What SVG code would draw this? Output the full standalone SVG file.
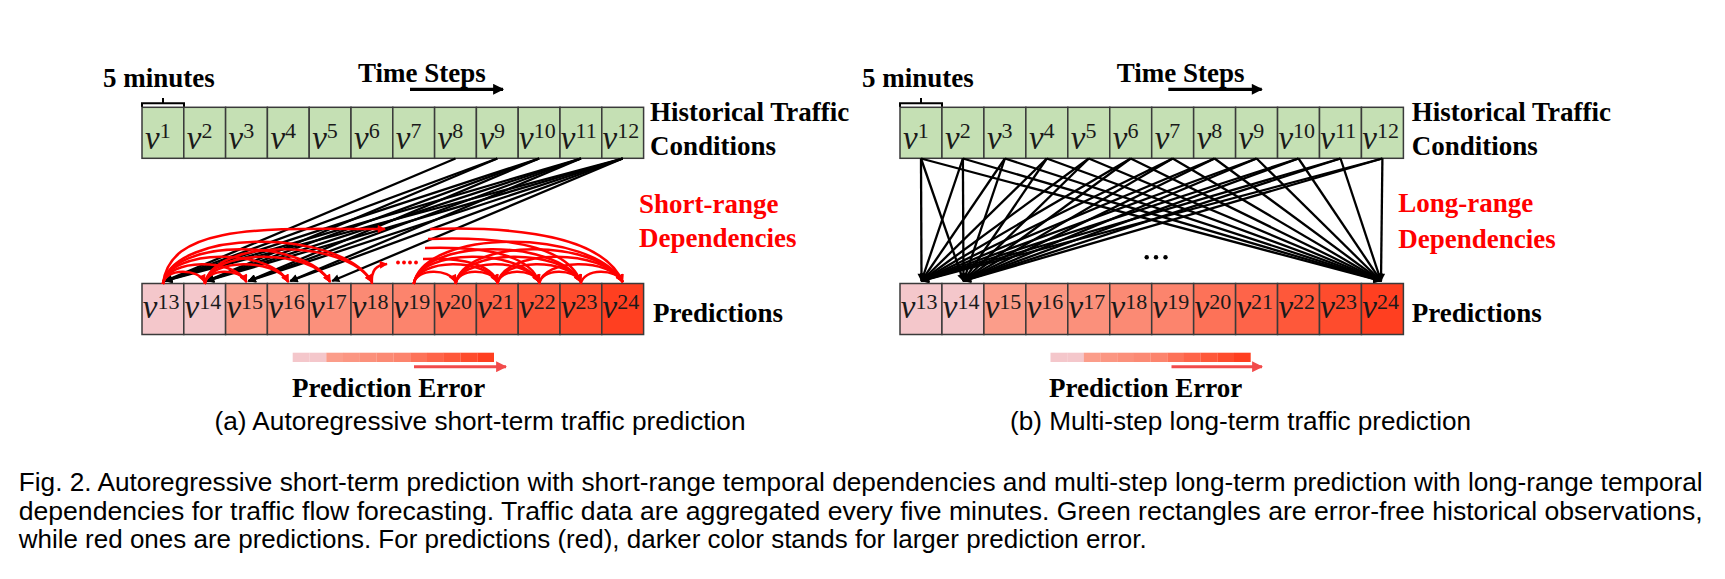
<svg xmlns="http://www.w3.org/2000/svg" width="1725" height="579" viewBox="0 0 1725 579">
<style>
.bg{fill:#ffffff}
.g{fill:#c5e0b4;stroke:#3a3a3a;stroke-width:1.5}
.p{stroke:#3a3a3a;stroke-width:1.5}
.v{font-family:"Liberation Serif",serif;font-style:italic;font-size:33px;fill:#1a1a1a}
.sup{font-style:normal;font-size:22px}
.lbl{font-family:"Liberation Serif",serif;font-weight:bold;font-size:27px;fill:#000}
.red{fill:#ff0000}
.cap{font-family:"Liberation Sans",Arial,sans-serif;font-size:25px;fill:#000}
.bl{stroke:#000;stroke-width:2.3;fill:none;marker-end:url(#ab)}
.ra{stroke:#ff0000;stroke-width:2.5;fill:none;marker-end:url(#ar)}
.br{stroke:#000;stroke-width:2;fill:none}
</style>
<defs>
<marker id="ab" viewBox="0 0 10 10" refX="9" refY="5" markerUnits="userSpaceOnUse" markerWidth="9" markerHeight="8" orient="auto"><path d="M0,0 L10,5 L0,10 z" fill="#000"/></marker>
<marker id="ar" viewBox="0 0 10 10" refX="9" refY="5" markerUnits="userSpaceOnUse" markerWidth="9" markerHeight="8" orient="auto"><path d="M0,0 L10,5 L0,10 z" fill="#ff0000"/></marker>
<marker id="big" viewBox="0 0 10 10" refX="9" refY="5" markerUnits="userSpaceOnUse" markerWidth="12" markerHeight="11" orient="auto"><path d="M0,0 L10,5 L0,10 z" fill="#000"/></marker>
<marker id="err" viewBox="0 0 10 10" refX="9" refY="5" markerUnits="userSpaceOnUse" markerWidth="11" markerHeight="11" orient="auto"><path d="M0,0 L10,5 L0,10 z" fill="#f24b4b"/></marker>
</defs>
<rect class="bg" x="0" y="0" width="1725" height="579"/>

<!-- ===== Panel (a) ===== -->
<g id="a-labels">
<text class="lbl" x="103" y="87">5 minutes</text>
<text class="lbl" x="358" y="81.5">Time Steps</text>
<line x1="410" y1="89.3" x2="503" y2="89.3" stroke="#000" stroke-width="3.3" marker-end="url(#big)"/>
<path class="br" d="M142 107 V103.3 H184 V107 M163 103.3 V98"/>
<text class="lbl" x="650" y="120.7">Historical Traffic</text>
<text class="lbl" x="650" y="155">Conditions</text>
<text class="lbl red" x="639" y="213.3">Short-range</text>
<text class="lbl red" x="639" y="247.3">Dependencies</text>
<text class="lbl" x="653" y="321.7">Predictions</text>
</g>

<g id="a-history">
<rect class="g" x="142" y="107.3" width="41.8" height="51"/>
<rect class="g" x="183.8" y="107.3" width="41.8" height="51"/>
<rect class="g" x="225.6" y="107.3" width="41.8" height="51"/>
<rect class="g" x="267.4" y="107.3" width="41.8" height="51"/>
<rect class="g" x="309.2" y="107.3" width="41.8" height="51"/>
<rect class="g" x="351" y="107.3" width="41.8" height="51"/>
<rect class="g" x="392.8" y="107.3" width="41.8" height="51"/>
<rect class="g" x="434.6" y="107.3" width="41.8" height="51"/>
<rect class="g" x="476.4" y="107.3" width="41.8" height="51"/>
<rect class="g" x="518.2" y="107.3" width="41.8" height="51"/>
<rect class="g" x="560" y="107.3" width="41.8" height="51"/>
<rect class="g" x="601.8" y="107.3" width="41.8" height="51"/>
<text class="v" x="145" y="148.5">v<tspan class="sup" dy="-10.5">1</tspan></text>
<text class="v" x="186.8" y="148.5">v<tspan class="sup" dy="-10.5">2</tspan></text>
<text class="v" x="228.6" y="148.5">v<tspan class="sup" dy="-10.5">3</tspan></text>
<text class="v" x="270.4" y="148.5">v<tspan class="sup" dy="-10.5">4</tspan></text>
<text class="v" x="312.2" y="148.5">v<tspan class="sup" dy="-10.5">5</tspan></text>
<text class="v" x="354" y="148.5">v<tspan class="sup" dy="-10.5">6</tspan></text>
<text class="v" x="395.8" y="148.5">v<tspan class="sup" dy="-10.5">7</tspan></text>
<text class="v" x="437.6" y="148.5">v<tspan class="sup" dy="-10.5">8</tspan></text>
<text class="v" x="479.4" y="148.5">v<tspan class="sup" dy="-10.5">9</tspan></text>
<text class="v" x="519" y="148.5">v<tspan class="sup" dy="-10.5">10</tspan></text>
<text class="v" x="560.8" y="148.5">v<tspan class="sup" dy="-10.5">11</tspan></text>
<text class="v" x="602.6" y="148.5">v<tspan class="sup" dy="-10.5">12</tspan></text>
</g>

<g id="a-predictions">
<rect class="p" fill="#f4c7cb" x="142" y="283.5" width="41.8" height="51"/>
<rect class="p" fill="#f4c7cb" x="183.8" y="283.5" width="41.8" height="51"/>
<rect class="p" fill="#fb9d8a" x="225.6" y="283.5" width="41.8" height="51"/>
<rect class="p" fill="#fb9682" x="267.4" y="283.5" width="41.8" height="51"/>
<rect class="p" fill="#fb907b" x="309.2" y="283.5" width="41.8" height="51"/>
<rect class="p" fill="#fb8a74" x="351" y="283.5" width="41.8" height="51"/>
<rect class="p" fill="#fc846d" x="392.8" y="283.5" width="41.8" height="51"/>
<rect class="p" fill="#fd7258" x="434.6" y="283.5" width="41.8" height="51"/>
<rect class="p" fill="#fe6449" x="476.4" y="283.5" width="41.8" height="51"/>
<rect class="p" fill="#fe583a" x="518.2" y="283.5" width="41.8" height="51"/>
<rect class="p" fill="#fe4c2d" x="560" y="283.5" width="41.8" height="51"/>
<rect class="p" fill="#ff3f20" x="601.8" y="283.5" width="41.8" height="51"/>
<text class="v" x="142.8" y="318">v<tspan class="sup" dy="-9.5">13</tspan></text>
<text class="v" x="184.6" y="318">v<tspan class="sup" dy="-9.5">14</tspan></text>
<text class="v" x="226.4" y="318">v<tspan class="sup" dy="-9.5">15</tspan></text>
<text class="v" x="268.2" y="318">v<tspan class="sup" dy="-9.5">16</tspan></text>
<text class="v" x="310" y="318">v<tspan class="sup" dy="-9.5">17</tspan></text>
<text class="v" x="351.8" y="318">v<tspan class="sup" dy="-9.5">18</tspan></text>
<text class="v" x="393.6" y="318">v<tspan class="sup" dy="-9.5">19</tspan></text>
<text class="v" x="435.4" y="318">v<tspan class="sup" dy="-9.5">20</tspan></text>
<text class="v" x="477.2" y="318">v<tspan class="sup" dy="-9.5">21</tspan></text>
<text class="v" x="519" y="318">v<tspan class="sup" dy="-9.5">22</tspan></text>
<text class="v" x="560.8" y="318">v<tspan class="sup" dy="-9.5">23</tspan></text>
<text class="v" x="602.6" y="318">v<tspan class="sup" dy="-9.5">24</tspan></text>
</g>

<g id="a-connectors">
<line class="bl" x1="455.5" y1="158.5" x2="164.9" y2="281"/>
<line class="bl" x1="497.3" y1="158.5" x2="164.9" y2="281"/>
<line class="bl" x1="497.3" y1="158.5" x2="206.7" y2="281"/>
<line class="bl" x1="539.1" y1="158.5" x2="164.9" y2="281"/>
<line class="bl" x1="539.1" y1="158.5" x2="206.7" y2="281"/>
<line class="bl" x1="539.1" y1="158.5" x2="248.5" y2="281"/>
<line class="bl" x1="580.9" y1="158.5" x2="164.9" y2="281"/>
<line class="bl" x1="580.9" y1="158.5" x2="206.7" y2="281"/>
<line class="bl" x1="580.9" y1="158.5" x2="248.5" y2="281"/>
<line class="bl" x1="580.9" y1="158.5" x2="290.3" y2="281"/>
<line class="bl" x1="622.7" y1="158.5" x2="164.9" y2="281"/>
<line class="bl" x1="622.7" y1="158.5" x2="206.7" y2="281"/>
<line class="bl" x1="622.7" y1="158.5" x2="248.5" y2="281"/>
<line class="bl" x1="622.7" y1="158.5" x2="290.3" y2="281"/>
<line class="bl" x1="622.7" y1="158.5" x2="332.1" y2="281"/>
<path class="ra" d="M162.9 284 C165 268 198.4 268 204.7 282"/>
<path class="ra" d="M162.9 284 C167.1 258 234 258 246.5 282"/>
<path class="ra" d="M162.9 284 C169.2 248 269.5 248 288.3 282"/>
<path class="ra" d="M162.9 284 C171.3 238 305 238 330.1 282"/>
<path class="ra" d="M162.9 284 C173.4 228 340.6 228 371.9 282"/>
<path class="ra" d="M204.7 284 C206.8 268 240.2 268 246.5 282"/>
<path class="ra" d="M204.7 284 C208.9 258 275.8 258 288.3 282"/>
<path class="ra" d="M204.7 284 C211 248 311.3 248 330.1 282"/>
<path class="ra" d="M204.7 284 C213.1 238 346.8 238 371.9 282"/>
<path class="ra" d="M162.9 284 C170 222 270 229 385 229"/>
<path class="ra" d="M371.9 284 C371 270 376 265 387 264"/>
<path class="ra" d="M413.7 284 C415.8 268 449.2 268 455.5 282"/>
<path class="ra" d="M455.5 284 C457.6 268 491 268 497.3 282"/>
<path class="ra" d="M497.3 284 C499.4 268 532.8 268 539.1 282"/>
<path class="ra" d="M539.1 284 C541.2 268 574.6 268 580.9 282"/>
<path class="ra" d="M580.9 284 C583 268 616.4 268 622.7 282"/>
<path class="ra" d="M413.7 284 C417.9 258 484.8 258 497.3 282"/>
<path class="ra" d="M455.5 284 C459.7 258 526.6 258 539.1 282"/>
<path class="ra" d="M497.3 284 C501.5 258 568.4 258 580.9 282"/>
<path class="ra" d="M539.1 284 C543.3 258 610.2 258 622.7 282"/>
<path class="ra" d="M413.7 284 C420 248 520.3 248 539.1 282"/>
<path class="ra" d="M455.5 284 C461.8 248 562.1 248 580.9 282"/>
<path class="ra" d="M497.3 284 C503.6 248 603.9 248 622.7 282"/>
<path class="ra" d="M413.7 284 C422.1 238 555.8 238 580.9 282"/>
<path class="ra" d="M455.5 284 C463.9 238 597.6 238 622.7 282"/>
<path class="ra" d="M413.7 284 C424.2 228 591.3 228 622.7 282"/>
<path class="ra" d="M430 229 C530 226 605 240 622.7 282"/>
<path class="ra" d="M428 239 C510 236 568 248 580.9 282"/>
<path class="ra" d="M425 248 C490 246 530 256 539.1 282"/>
<path class="ra" d="M423 259 C465 257 492 266 497.3 282"/>
<circle class="red" cx="398" cy="262.5" r="1.9"/>
<circle class="red" cx="404" cy="262.5" r="1.9"/>
<circle class="red" cx="410" cy="262.5" r="1.9"/>
<circle class="red" cx="416" cy="262.5" r="1.9"/>
</g>

<g id="a-error">
<rect fill="#f4c7cb" x="292.7" y="352.7" width="16.9" height="9.3"/>
<rect fill="#f4c7cb" x="309.5" y="352.7" width="16.9" height="9.3"/>
<rect fill="#fb9d8a" x="326.3" y="352.7" width="16.9" height="9.3"/>
<rect fill="#fb9682" x="343.0" y="352.7" width="16.9" height="9.3"/>
<rect fill="#fb907b" x="359.8" y="352.7" width="16.9" height="9.3"/>
<rect fill="#fb8a74" x="376.6" y="352.7" width="16.9" height="9.3"/>
<rect fill="#fc846d" x="393.4" y="352.7" width="16.9" height="9.3"/>
<rect fill="#fd7258" x="410.2" y="352.7" width="16.9" height="9.3"/>
<rect fill="#fe6449" x="427.0" y="352.7" width="16.9" height="9.3"/>
<rect fill="#fe583a" x="443.7" y="352.7" width="16.9" height="9.3"/>
<rect fill="#fe4c2d" x="460.5" y="352.7" width="16.9" height="9.3"/>
<rect fill="#ff3f20" x="477.3" y="352.7" width="16.7" height="9.3"/>
<line x1="414" y1="366.7" x2="506" y2="366.7" stroke="#f24b4b" stroke-width="3" marker-end="url(#err)"/>
<text class="lbl" x="292" y="396.7">Prediction Error</text>
</g>

<!-- ===== Panel (b) ===== -->
<g id="b-labels">
<text class="lbl" x="862" y="87">5 minutes</text>
<text class="lbl" x="1116.7" y="81.5">Time Steps</text>
<line x1="1168.3" y1="89.3" x2="1261.7" y2="89.3" stroke="#000" stroke-width="3.3" marker-end="url(#big)"/>
<path class="br" d="M900 107 V103.3 H942 V107 M921 103.3 V98"/>
<text class="lbl" x="1411.7" y="120.7">Historical Traffic</text>
<text class="lbl" x="1411.7" y="155">Conditions</text>
<text class="lbl red" x="1398.3" y="211.7">Long-range</text>
<text class="lbl red" x="1398.3" y="247.7">Dependencies</text>
<text class="lbl" x="1411.7" y="321.7">Predictions</text>
</g>

<g id="b-history">
<rect class="g" x="900" y="107.3" width="41.95" height="51"/>
<rect class="g" x="941.95" y="107.3" width="41.95" height="51"/>
<rect class="g" x="983.9" y="107.3" width="41.95" height="51"/>
<rect class="g" x="1025.85" y="107.3" width="41.95" height="51"/>
<rect class="g" x="1067.8" y="107.3" width="41.95" height="51"/>
<rect class="g" x="1109.75" y="107.3" width="41.95" height="51"/>
<rect class="g" x="1151.7" y="107.3" width="41.95" height="51"/>
<rect class="g" x="1193.65" y="107.3" width="41.95" height="51"/>
<rect class="g" x="1235.6" y="107.3" width="41.95" height="51"/>
<rect class="g" x="1277.55" y="107.3" width="41.95" height="51"/>
<rect class="g" x="1319.5" y="107.3" width="41.95" height="51"/>
<rect class="g" x="1361.45" y="107.3" width="41.95" height="51"/>
<text class="v" x="903" y="148.5">v<tspan class="sup" dy="-10.5">1</tspan></text>
<text class="v" x="945" y="148.5">v<tspan class="sup" dy="-10.5">2</tspan></text>
<text class="v" x="986.9" y="148.5">v<tspan class="sup" dy="-10.5">3</tspan></text>
<text class="v" x="1028.9" y="148.5">v<tspan class="sup" dy="-10.5">4</tspan></text>
<text class="v" x="1070.8" y="148.5">v<tspan class="sup" dy="-10.5">5</tspan></text>
<text class="v" x="1112.8" y="148.5">v<tspan class="sup" dy="-10.5">6</tspan></text>
<text class="v" x="1154.7" y="148.5">v<tspan class="sup" dy="-10.5">7</tspan></text>
<text class="v" x="1196.7" y="148.5">v<tspan class="sup" dy="-10.5">8</tspan></text>
<text class="v" x="1238.6" y="148.5">v<tspan class="sup" dy="-10.5">9</tspan></text>
<text class="v" x="1278.4" y="148.5">v<tspan class="sup" dy="-10.5">10</tspan></text>
<text class="v" x="1320.3" y="148.5">v<tspan class="sup" dy="-10.5">11</tspan></text>
<text class="v" x="1362.3" y="148.5">v<tspan class="sup" dy="-10.5">12</tspan></text>
</g>

<g id="b-predictions">
<rect class="p" fill="#f4c7cb" x="900" y="283.5" width="41.95" height="51"/>
<rect class="p" fill="#f4c7cb" x="941.95" y="283.5" width="41.95" height="51"/>
<rect class="p" fill="#fb9d8a" x="983.9" y="283.5" width="41.95" height="51"/>
<rect class="p" fill="#fb9682" x="1025.85" y="283.5" width="41.95" height="51"/>
<rect class="p" fill="#fb907b" x="1067.8" y="283.5" width="41.95" height="51"/>
<rect class="p" fill="#fb8a74" x="1109.75" y="283.5" width="41.95" height="51"/>
<rect class="p" fill="#fc846d" x="1151.7" y="283.5" width="41.95" height="51"/>
<rect class="p" fill="#fd7258" x="1193.65" y="283.5" width="41.95" height="51"/>
<rect class="p" fill="#fe6449" x="1235.6" y="283.5" width="41.95" height="51"/>
<rect class="p" fill="#fe583a" x="1277.55" y="283.5" width="41.95" height="51"/>
<rect class="p" fill="#fe4c2d" x="1319.5" y="283.5" width="41.95" height="51"/>
<rect class="p" fill="#ff3f20" x="1361.45" y="283.5" width="41.95" height="51"/>
<text class="v" x="900.8" y="318">v<tspan class="sup" dy="-9.5">13</tspan></text>
<text class="v" x="942.8" y="318">v<tspan class="sup" dy="-9.5">14</tspan></text>
<text class="v" x="984.7" y="318">v<tspan class="sup" dy="-9.5">15</tspan></text>
<text class="v" x="1026.7" y="318">v<tspan class="sup" dy="-9.5">16</tspan></text>
<text class="v" x="1068.6" y="318">v<tspan class="sup" dy="-9.5">17</tspan></text>
<text class="v" x="1110.6" y="318">v<tspan class="sup" dy="-9.5">18</tspan></text>
<text class="v" x="1152.5" y="318">v<tspan class="sup" dy="-9.5">19</tspan></text>
<text class="v" x="1194.5" y="318">v<tspan class="sup" dy="-9.5">20</tspan></text>
<text class="v" x="1236.4" y="318">v<tspan class="sup" dy="-9.5">21</tspan></text>
<text class="v" x="1278.4" y="318">v<tspan class="sup" dy="-9.5">22</tspan></text>
<text class="v" x="1320.3" y="318">v<tspan class="sup" dy="-9.5">23</tspan></text>
<text class="v" x="1362.3" y="318">v<tspan class="sup" dy="-9.5">24</tspan></text>
</g>

<g id="b-connectors">
<line class="bl" x1="921" y1="158.5" x2="921.5" y2="281"/>
<line class="bl" x1="921" y1="158.5" x2="963.5" y2="281"/>
<line class="bl" x1="921" y1="158.5" x2="1381" y2="281"/>
<line class="bl" x1="962.9" y1="158.5" x2="921.5" y2="281"/>
<line class="bl" x1="962.9" y1="158.5" x2="963.5" y2="281"/>
<line class="bl" x1="962.9" y1="158.5" x2="1381" y2="281"/>
<line class="bl" x1="1004.9" y1="158.5" x2="921.5" y2="281"/>
<line class="bl" x1="1004.9" y1="158.5" x2="963.5" y2="281"/>
<line class="bl" x1="1004.9" y1="158.5" x2="1381" y2="281"/>
<line class="bl" x1="1046.8" y1="158.5" x2="921.5" y2="281"/>
<line class="bl" x1="1046.8" y1="158.5" x2="963.5" y2="281"/>
<line class="bl" x1="1046.8" y1="158.5" x2="1381" y2="281"/>
<line class="bl" x1="1088.8" y1="158.5" x2="921.5" y2="281"/>
<line class="bl" x1="1088.8" y1="158.5" x2="963.5" y2="281"/>
<line class="bl" x1="1088.8" y1="158.5" x2="1381" y2="281"/>
<line class="bl" x1="1130.7" y1="158.5" x2="921.5" y2="281"/>
<line class="bl" x1="1130.7" y1="158.5" x2="963.5" y2="281"/>
<line class="bl" x1="1130.7" y1="158.5" x2="1381" y2="281"/>
<line class="bl" x1="1172.7" y1="158.5" x2="921.5" y2="281"/>
<line class="bl" x1="1172.7" y1="158.5" x2="963.5" y2="281"/>
<line class="bl" x1="1172.7" y1="158.5" x2="1381" y2="281"/>
<line class="bl" x1="1214.6" y1="158.5" x2="921.5" y2="281"/>
<line class="bl" x1="1214.6" y1="158.5" x2="963.5" y2="281"/>
<line class="bl" x1="1214.6" y1="158.5" x2="1381" y2="281"/>
<line class="bl" x1="1256.6" y1="158.5" x2="921.5" y2="281"/>
<line class="bl" x1="1256.6" y1="158.5" x2="963.5" y2="281"/>
<line class="bl" x1="1256.6" y1="158.5" x2="1381" y2="281"/>
<line class="bl" x1="1298.5" y1="158.5" x2="921.5" y2="281"/>
<line class="bl" x1="1298.5" y1="158.5" x2="963.5" y2="281"/>
<line class="bl" x1="1298.5" y1="158.5" x2="1381" y2="281"/>
<line class="bl" x1="1340.5" y1="158.5" x2="921.5" y2="281"/>
<line class="bl" x1="1340.5" y1="158.5" x2="963.5" y2="281"/>
<line class="bl" x1="1340.5" y1="158.5" x2="1381" y2="281"/>
<line class="bl" x1="1382.4" y1="158.5" x2="921.5" y2="281"/>
<line class="bl" x1="1382.4" y1="158.5" x2="963.5" y2="281"/>
<line class="bl" x1="1382.4" y1="158.5" x2="1381" y2="281"/>
<circle cx="1146.7" cy="257.3" r="2.2" fill="#000"/>
<circle cx="1156" cy="257.3" r="2.2" fill="#000"/>
<circle cx="1165.5" cy="257.3" r="2.2" fill="#000"/>
</g>

<g id="b-error">
<rect fill="#f4c7cb" x="1050.5" y="352.7" width="16.8" height="9.3"/>
<rect fill="#f4c7cb" x="1067.2" y="352.7" width="16.8" height="9.3"/>
<rect fill="#fb9d8a" x="1083.9" y="352.7" width="16.8" height="9.3"/>
<rect fill="#fb9682" x="1100.5" y="352.7" width="16.8" height="9.3"/>
<rect fill="#fb907b" x="1117.2" y="352.7" width="16.8" height="9.3"/>
<rect fill="#fb8a74" x="1133.9" y="352.7" width="16.8" height="9.3"/>
<rect fill="#fc846d" x="1150.6" y="352.7" width="16.8" height="9.3"/>
<rect fill="#fd7258" x="1167.3" y="352.7" width="16.8" height="9.3"/>
<rect fill="#fe6449" x="1183.9" y="352.7" width="16.8" height="9.3"/>
<rect fill="#fe583a" x="1200.6" y="352.7" width="16.8" height="9.3"/>
<rect fill="#fe4c2d" x="1217.3" y="352.7" width="16.8" height="9.3"/>
<rect fill="#ff3f20" x="1234.0" y="352.7" width="16.7" height="9.3"/>
<line x1="1171.5" y1="366.7" x2="1262" y2="366.7" stroke="#f24b4b" stroke-width="3" marker-end="url(#err)"/>
<text class="lbl" x="1049" y="396.7">Prediction Error</text>
</g>

<g id="captions">
<text class="cap" x="214.5" y="430" textLength="531" lengthAdjust="spacingAndGlyphs">(a) Autoregressive short-term traffic prediction</text>
<text class="cap" x="1010" y="430" textLength="461" lengthAdjust="spacingAndGlyphs">(b) Multi-step long-term traffic prediction</text>
<text class="cap" x="18.7" y="491" textLength="1684" lengthAdjust="spacingAndGlyphs">Fig. 2. Autoregressive short-term prediction with short-range temporal dependencies and multi-step long-term prediction with long-range temporal</text>
<text class="cap" x="18.7" y="519.5" textLength="1684" lengthAdjust="spacingAndGlyphs">dependencies for traffic flow forecasting. Traffic data are aggregated every five minutes. Green rectangles are error-free historical observations,</text>
<text class="cap" x="18.7" y="548" textLength="1128" lengthAdjust="spacingAndGlyphs">while red ones are predictions. For predictions (red), darker color stands for larger prediction error.</text>
</g>
</svg>
